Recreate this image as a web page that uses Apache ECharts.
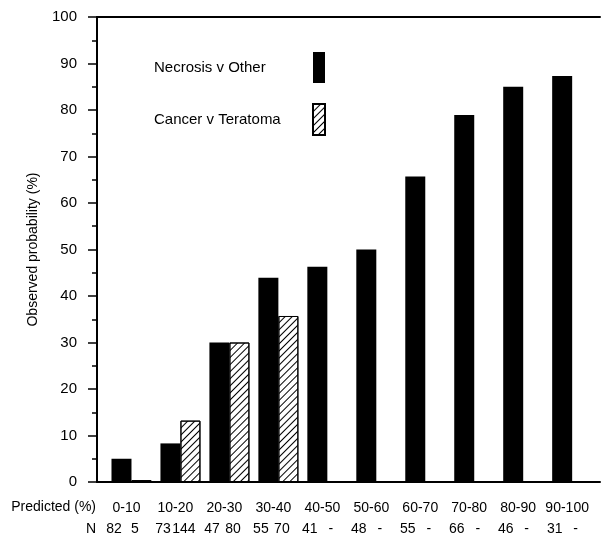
<!DOCTYPE html>
<html><head><meta charset="utf-8">
<script src="https://cdn.jsdelivr.net/npm/echarts@6/dist/echarts.min.js"></script>
<style>html,body{margin:0;padding:0;background:#fff}#c{width:603px;height:539px}</style>
</head><body><div id="c"></div>
<script>
const categories = ['0-10','10-20','20-30','30-40','40-50','50-60','60-70','70-80','80-90','90-100'];
const necrosisValues = [5, 8.3, 30, 43.9, 46.3, 50, 65.7, 78.9, 85, 87.3];
const cancerValues = [0.4, 13.2, 30, 35.7, null, null, null, null, null, null];
const nNecrosis = ['82','73','47','55','41','48','55','66','46','31'];
const nCancer = ['5','144','80','70','-','-','-','-','-','-'];
const seriesNames = ['Necrosis v Other', 'Cancer v Teratoma'];
const yAxisTitle = 'Observed probability (%)';
const xRowTitle = 'Predicted (%)';
const nRowTitle = 'N';

const FONT = "'Liberation Sans', Arial, Helvetica, sans-serif";
const chart = echarts.init(document.getElementById('c'), null, {renderer: 'canvas'});

const hatch = {
  symbol: 'rect', symbolSize: 1, rotation: -Math.PI / 4,
  dashArrayX: [1, 0], dashArrayY: [1, 4], color: '#000'
};

chart.setOption({
  animation: false,
  backgroundColor: '#fff',
  textStyle: {fontFamily: FONT, color: '#000'},
  grid: [
    {left: 107, right: 3, top: 17, bottom: 57},
    {left: 97, right: 3, top: 17, bottom: 57}
  ],
  legend: {
    data: seriesNames, orient: 'vertical', left: 149, top: 47, align: 'right',
    icon: 'rect', itemWidth: 12, itemHeight: 31, itemGap: 20,
    formatter: '{t|{name}}',
    textStyle: {fontFamily: FONT, fontSize: 15, color: '#000',
      rich: {t: {width: 154, align: 'left', fontSize: 15, fontFamily: FONT, color: '#000'}}},
    selectedMode: false
  },
  xAxis: [
    {type: 'category', gridIndex: 0, data: categories,
      axisLine: {show: false}, axisTick: {show: false},
      axisLabel: {interval: 0, margin: 16, color: '#000',
        formatter: (v, i) => `{c|${v}}\n{n|${nNecrosis[i]}}{n|${nCancer[i]}}{s| }`,
        rich: {
          c: {fontSize: 14, fontFamily: FONT, align: 'center', padding: [0, 10, 0, 0], lineHeight: 20, color: '#000'},
          n: {fontSize: 14, fontFamily: FONT, align: 'center', width: 21, lineHeight: 22, color: '#000'},
          s: {fontSize: 14, align: 'center', width: 14, lineHeight: 22}
        }}},
    {type: 'value', gridIndex: 1, min: 0, max: 1, position: 'bottom',
      axisLine: {show: true, lineStyle: {color: '#000', width: 2}},
      axisTick: {show: false}, axisLabel: {show: false}, splitLine: {show: false}},
    {type: 'value', gridIndex: 1, min: 0, max: 1, position: 'top',
      axisLine: {show: true, lineStyle: {color: '#000', width: 2}},
      axisTick: {show: false}, axisLabel: {show: false}, splitLine: {show: false}}
  ],
  yAxis: [
    {type: 'value', gridIndex: 0, min: 0, max: 100, show: false},
    {type: 'value', gridIndex: 1, min: 0, max: 100, interval: 10,
      name: yAxisTitle, nameLocation: 'middle', nameGap: 57,
      nameTextStyle: {fontSize: 14, fontFamily: FONT, color: '#000'},
      axisLine: {show: true, lineStyle: {color: '#000', width: 2}},
      axisTick: {show: true, length: 9, lineStyle: {color: '#000', width: 1.5}},
      minorTick: {show: true, splitNumber: 2, length: 5, lineStyle: {color: '#000', width: 1.5}},
      axisLabel: {margin: 20, fontSize: 15, fontFamily: FONT, color: '#000'},
      splitLine: {show: false}}
  ],
  graphic: [
    {type: 'text', right: 603 - 96, top: 500, style: {text: xRowTitle, font: `14px ${FONT}`, fill: '#000'}},
    {type: 'text', right: 603 - 96, top: 522, style: {text: nRowTitle, font: `14px ${FONT}`, fill: '#000'}}
  ],
  series: [
    {name: seriesNames[0], type: 'bar', xAxisIndex: 0, yAxisIndex: 0, data: necrosisValues,
      barWidth: 20, barGap: '0%', itemStyle: {color: '#000'}},
    {name: seriesNames[1], type: 'bar', xAxisIndex: 0, yAxisIndex: 0, data: cancerValues,
      barWidth: 20, barGap: '0%',
      itemStyle: {color: '#fff', borderColor: '#000', borderWidth: 1, decal: hatch}}
  ]
});
</script></body></html>
